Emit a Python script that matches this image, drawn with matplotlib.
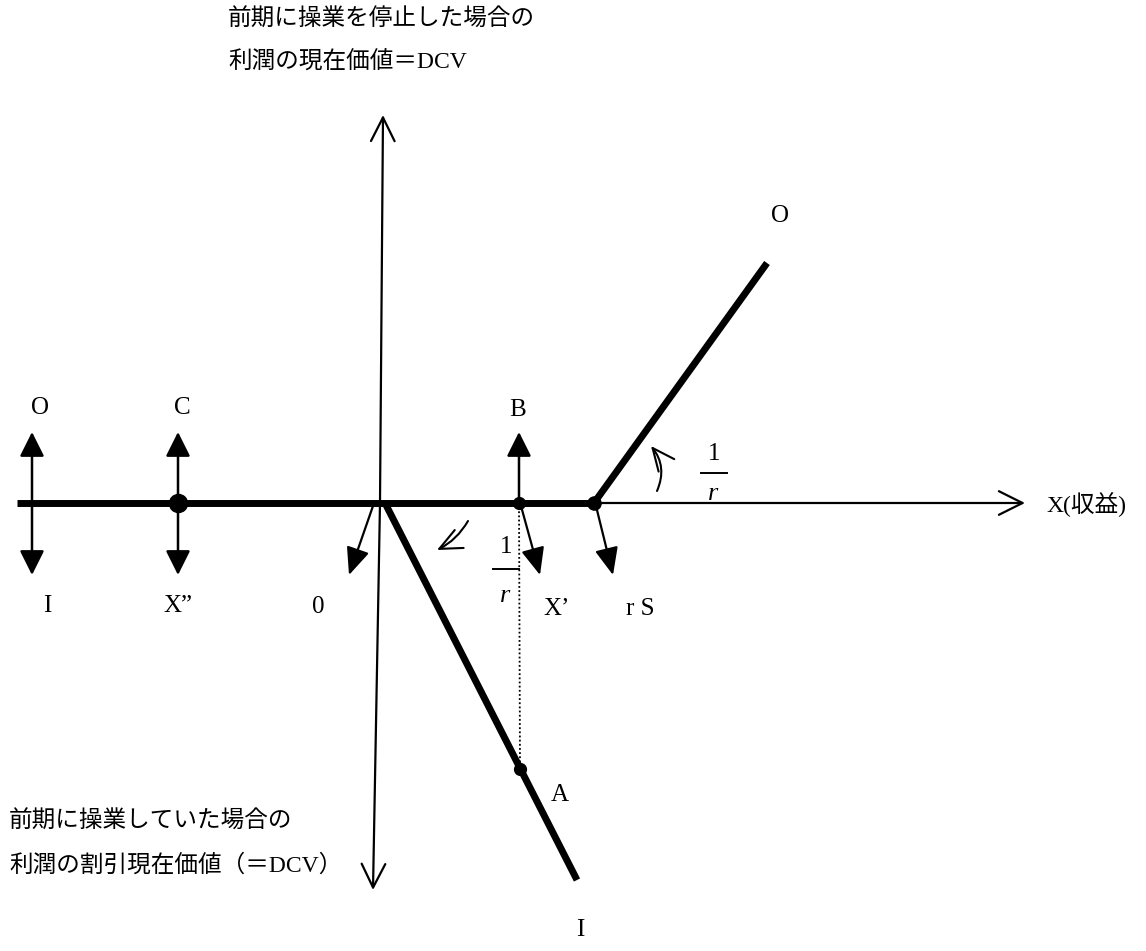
import matplotlib
matplotlib.use("Agg")
import matplotlib.pyplot as plt

# diagram geometry in picture units (x to the right, y downwards)
origin = (380, 503)
axis_x_end = 1025
axis_y_top = (383, 115)
axis_y_bottom = (373, 890)
thick_left = 17
kink = (594, 503)
upper_end = (767, 263)
lower_start = (385, 503)
point_A = (520, 769)
lower_end = (577, 880)
point_B = (519, 503)
point_Xpp = (178, 503)
left_x = 32
up_tip = 432
down_tip = 575
slant_arrows = [((373, 506), (349, 575)), ((521, 506), (540, 575)), ((596, 506), (613, 575))]

top_labels = ["O", "C", "B", "O"]
top_label_pos = [(40, 408), (182, 408), (518, 410), (780, 216)]
bottom_labels = ["I", "X\u201d", "0", "X\u2019", "r S", "A", "I"]
bottom_label_pos = [(47, 606), (178, 606), (318, 607), (557, 609), (640, 609), (560, 795), (580, 930)]

title_top = ["前期に操業を停止した場合の", "利潤の現在価値＝DCV"]
title_bottom = ["前期に操業していた場合の", "利潤の割引現在価値（＝DCV）"]
x_axis_label = "X(収益)"

serif = "Liberation Serif"
mixed = ["Liberation Serif", "Noto Sans CJK JP"]

fig = plt.figure(figsize=(11.46, 9.51), dpi=100)
ax = fig.add_axes([0, 0, 1, 1])
ax.set_xlim(0, 1146)
ax.set_ylim(951, 0)
ax.axis("off")

open_head = dict(arrowstyle="->,head_length=1.0,head_width=0.5", color="black", lw=1.6,
                 shrinkA=0, shrinkB=0, mutation_scale=17)
fill_head = dict(arrowstyle="-|>,head_length=1.0,head_width=0.5", color="black", lw=1.8,
                 shrinkA=0, shrinkB=0, mutation_scale=15)
slant_head = dict(arrowstyle="-|>,head_length=1.05,head_width=0.45", color="black", lw=1.6,
                  shrinkA=0, shrinkB=0, mutation_scale=16)

# axes
ax.annotate("", xy=(axis_x_end, origin[1]), xytext=origin, arrowprops=open_head)
ax.annotate("", xy=axis_y_top, xytext=origin, arrowprops=open_head)
ax.annotate("", xy=axis_y_bottom, xytext=origin, arrowprops=open_head)

# thick piecewise lines
ax.plot([thick_left, kink[0]], [origin[1], kink[1]], color="black", lw=5, solid_capstyle="butt")
ax.plot([kink[0], upper_end[0]], [kink[1], upper_end[1]], color="black", lw=5, solid_capstyle="butt")
ax.plot([lower_start[0], lower_end[0]], [lower_start[1], lower_end[1]], color="black", lw=5,
        solid_capstyle="butt")

# dotted drop from B to A
ax.plot([point_B[0], point_A[0]], [point_B[1], point_A[1]], color="black", lw=1.3, ls=(0, (1, 1.3)))

# dots
ax.plot(*point_Xpp, "o", color="black", ms=13)
ax.plot(*kink, "o", color="black", ms=9.5)
ax.plot(*point_B, "o", color="black", ms=8.5)
ax.plot(*point_A, "o", color="black", ms=8.5)

# vertical double arrows
for x in [left_x, point_Xpp[0]]:
    ax.annotate("", xy=(x, up_tip), xytext=(x, origin[1]), arrowprops=fill_head)
    ax.annotate("", xy=(x, down_tip), xytext=(x, origin[1]), arrowprops=fill_head)
ax.annotate("", xy=(point_B[0], up_tip), xytext=point_B, arrowprops=fill_head)

# slanted arrows
for start, tip in slant_arrows:
    ax.annotate("", xy=tip, xytext=start, arrowprops=slant_head)

# curved rotation arrows
curve = dict(arrowstyle="->,head_length=1.0,head_width=0.45", color="black", lw=1.5,
             shrinkA=0, shrinkB=0, mutation_scale=16)
ax.annotate("", xy=(437, 550), xytext=(468, 521),
            arrowprops=dict(curve, connectionstyle="arc3,rad=-0.15"))
ax.annotate("", xy=(651, 446), xytext=(657, 491),
            arrowprops=dict(curve, connectionstyle="arc3,rad=0.3"))

# 1/r fractions
for cx, y1, ybar, yr in [(714, 454, 473, 494), (506, 547, 569, 596)]:
    ax.text(cx, y1, "1", fontsize=18, family=serif, ha="center", va="center")
    ax.plot([cx - 13, cx + 13], [ybar, ybar], color="black", lw=1.4)
    ax.text(cx - 1, yr, "r", fontsize=19, family=serif, style="italic", ha="center", va="center")

# point labels
for lab, (x, y) in zip(top_labels, top_label_pos):
    ax.text(x, y, lab, fontsize=18, family=serif, ha="center", va="center")
for lab, (x, y) in zip(bottom_labels, bottom_label_pos):
    ax.text(x, y, lab, fontsize=18, family=serif, ha="center", va="center")

# axis captions
ax.text(1046, 504, x_axis_label, fontsize=17, family=mixed, ha="left", va="center")
for i, line in enumerate(title_top):
    ax.text(228, 20 + 43 * i, line, fontsize=17, family=mixed, ha="left", va="center")
for i, line in enumerate(title_bottom):
    ax.text(9, 822 + 43 * i, line, fontsize=17, family=mixed, ha="left", va="center")

fig.savefig("out.png", dpi=100, facecolor="white")
